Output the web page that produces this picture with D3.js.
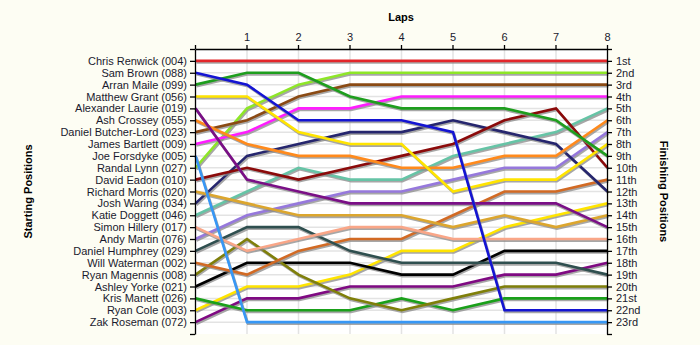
<!DOCTYPE html>
<html>
<head>
<meta charset="utf-8">
<script src="https://cdn.jsdelivr.net/npm/d3@7/dist/d3.min.js"></script>
<style>
  html, body { margin: 0; padding: 0; background: #fdfdf3; }
  svg { display: block; }
  text { font-family: "Liberation Sans", Arial, sans-serif; }
</style>
</head>
<body>
<svg id="chart" width="700" height="345"></svg>
<script>
// Drivers in starting-grid order
const drivers = [
  "Chris Renwick (004)", "Sam Brown (088)", "Arran Maile (099)", "Matthew Grant (056)",
  "Alexander Laurie (019)", "Ash Crossey (055)", "Daniel Butcher-Lord (023)", "James Bartlett (009)",
  "Joe Forsdyke (005)", "Randal Lynn (027)", "David Eadon (010)", "Richard Morris (020)",
  "Josh Waring (034)", "Katie Doggett (046)", "Simon Hillery (017)", "Andy Martin (076)",
  "Daniel Humphrey (029)", "Will Waterman (002)", "Ryan Magennis (008)", "Ashley Yorke (021)",
  "Kris Manett (026)", "Ryan Cole (003)", "Zak Roseman (072)"
];

// Lap numbers (0 = start)
const laps = [0, 1, 2, 3, 4, 5, 6, 7, 8];

// Position of each driver at the end of every lap (same order as drivers)
const positions = [
  [1, 1, 1, 1, 1, 1, 1, 1, 1],
  [2, 3, 6, 6, 6, 7, 22, 22, 22],
  [3, 2, 2, 4, 5, 5, 5, 6, 9],
  [4, 4, 7, 8, 8, 12, 11, 11, 8],
  [5, 11, 12, 13, 13, 13, 13, 13, 15],
  [6, 8, 9, 9, 10, 10, 9, 9, 6],
  [7, 6, 4, 3, 3, 3, 3, 3, 3],
  [8, 7, 5, 5, 4, 4, 4, 4, 4],
  [9, 23, 23, 23, 23, 23, 23, 23, 23],
  [10, 5, 3, 2, 2, 2, 2, 2, 2],
  [11, 10, 11, 10, 9, 8, 6, 5, 10],
  [12, 13, 14, 14, 14, 15, 14, 15, 14],
  [13, 9, 8, 7, 7, 6, 7, 8, 12],
  [14, 12, 10, 11, 11, 9, 8, 7, 5],
  [15, 17, 16, 15, 15, 16, 16, 16, 16],
  [16, 14, 13, 12, 12, 11, 10, 10, 7],
  [17, 15, 15, 17, 18, 18, 18, 18, 19],
  [18, 19, 17, 16, 16, 14, 12, 12, 11],
  [19, 16, 19, 21, 22, 21, 20, 20, 20],
  [20, 18, 18, 18, 19, 19, 17, 17, 17],
  [21, 22, 22, 22, 21, 22, 21, 21, 21],
  [22, 20, 20, 19, 17, 17, 15, 14, 13],
  [23, 21, 21, 20, 20, 20, 19, 19, 18]
];

// Finishing-position tick labels
const finishLabels = [
  "1st", "2nd", "3rd", "4th", "5th", "6th", "7th", "8th", "9th", "10th", "11th", "12th",
  "13th", "14th", "15th", "16th", "17th", "18th", "19th", "20th", "21st", "22nd", "23rd"
];

// Line colour per driver
const palette = [
  "#e3262b", "#1414d2", "#1e9e1e", "#ffe400", "#7a0f86", "#ff8a1c", "#8a4a14", "#ff1cff",
  "#3797f5", "#8ee628", "#8b0a0a", "#dca62e", "#26266e", "#66c4a6", "#f9a688", "#9678dc",
  "#2f4f4f", "#d26a24", "#7f7f0a", "#000000", "#1aa01a", "#ffe400", "#7f0a82"
];

const svg = d3.select("#chart");
const plotLeft = 195, plotRight = 607, plotTop = 49, plotBottom = 334;

const x = d3.scaleLinear().domain([0, 8]).range([plotLeft, plotRight]);
const y = d3.scaleLinear().domain([0, 24]).range([plotTop, plotBottom]);

// Plot background
svg.append("rect")
  .attr("x", plotLeft).attr("y", plotTop)
  .attr("width", plotRight - plotLeft).attr("height", plotBottom - plotTop)
  .attr("fill", "#ffffff");

// Grid
const grid = svg.append("g").attr("stroke", "#e3e3e3").attr("stroke-width", 1.5);
grid.selectAll("line.h").data(d3.range(1, 24)).join("line")
  .attr("class", "h")
  .attr("x1", plotLeft).attr("x2", plotRight)
  .attr("y1", d => y(d)).attr("y2", d => y(d));
grid.selectAll("line.v").data(laps.slice(1, 8)).join("line")
  .attr("class", "v")
  .attr("x1", d => x(d) + 0.5).attr("x2", d => x(d) + 0.5)
  .attr("y1", plotTop).attr("y2", plotBottom);

// Position lines, earlier grid slots drawn last so they sit on top
const line = d3.line().x((d, i) => x(laps[i]) + 0.5).y(d => y(d));
const order = d3.range(drivers.length).reverse();

const lines = svg.append("g").attr("fill", "none").attr("stroke-linejoin", "miter");
order.forEach(i => {
  lines.append("path")
    .attr("d", line(positions[i]))
    .attr("stroke", "#8a8a8a")
    .attr("stroke-opacity", 0.75)
    .attr("stroke-width", 2.6)
    .attr("transform", "translate(1,1.6)");
  lines.append("path")
    .attr("d", line(positions[i]))
    .attr("stroke", palette[i])
    .attr("stroke-width", 2.6);
});

// Axes
const ticksY = d3.range(0, 25);
const startName = p => { const i = positions.findIndex(r => r[0] === p); return i >= 0 ? drivers[i] : ""; };

const axisLeft = d3.axisLeft(y).tickValues(ticksY).tickSize(5).tickSizeOuter(0)
  .tickFormat(p => startName(p));
const axisRight = d3.axisRight(y).tickValues(ticksY).tickSize(5).tickSizeOuter(0)
  .tickFormat(p => (p >= 1 && p <= 23) ? finishLabels[p - 1] : "");
const axisTop = d3.axisTop(x).tickValues(laps).tickSize(4).tickSizeOuter(0)
  .tickFormat(d => d === 0 ? "" : d);

function styleAxis(g) {
  g.selectAll("path.domain").attr("stroke", "#000").attr("stroke-width", 1.3);
  g.selectAll(".tick line").attr("stroke", "#000").attr("stroke-width", 1.3);
  g.selectAll(".tick text").attr("fill", "#1a1a2e").attr("font-size", 11)
    .attr("font-family", "'Liberation Sans', Arial, sans-serif");
}

svg.append("g").attr("transform", `translate(${plotLeft},0)`).call(axisLeft).call(styleAxis)
  .selectAll(".tick text").attr("x", -8);
svg.append("g").attr("transform", `translate(${plotRight},0)`).call(axisRight).call(styleAxis)
  .selectAll(".tick text").attr("x", 9);
svg.append("g").attr("transform", `translate(0,${plotTop})`).call(axisTop).call(styleAxis)
  .selectAll(".tick text").attr("y", -8);

// Titles
svg.append("text")
  .attr("x", (plotLeft + plotRight) / 2).attr("y", 21)
  .attr("text-anchor", "middle").attr("font-weight", "bold").attr("font-size", 11)
  .attr("fill", "#000").text("Laps");

svg.append("text")
  .attr("transform", `translate(32,${(plotTop + plotBottom) / 2}) rotate(-90)`)
  .attr("text-anchor", "middle").attr("font-weight", "bold").attr("font-size", 11)
  .attr("fill", "#000").text("Starting Positions");

svg.append("text")
  .attr("transform", `translate(660,${(plotTop + plotBottom) / 2}) rotate(90)`)
  .attr("text-anchor", "middle").attr("font-weight", "bold").attr("font-size", 11)
  .attr("fill", "#000").text("Finishing Positions");
</script>
</body>
</html>
